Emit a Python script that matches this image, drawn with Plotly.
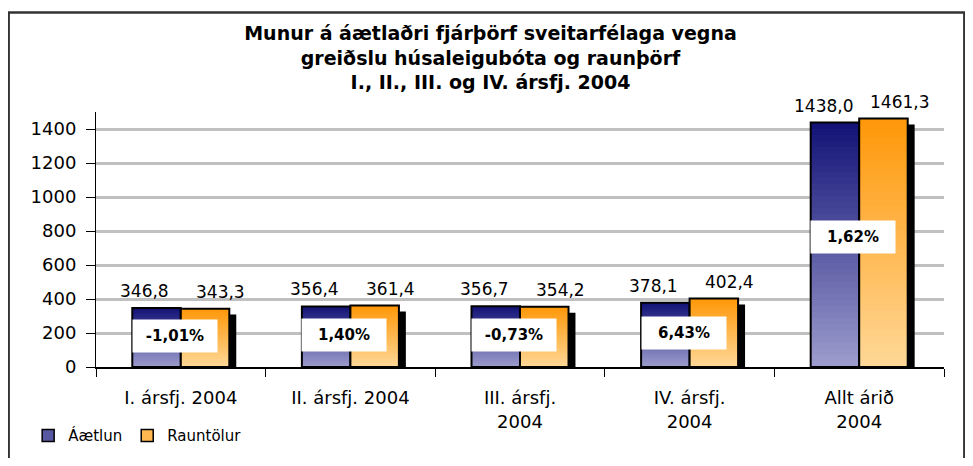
import plotly.graph_objects as go

categories = ["I. ársfj. 2004", "II. ársfj. 2004", "III. ársfj.<br>2004",
              "IV. ársfj.<br>2004", "Allt árið<br>2004"]
aaetlun = [346.8, 356.4, 356.7, 378.1, 1438.0]
rauntolur = [343.3, 361.4, 354.2, 402.4, 1461.3]
munur = ["-1,01%", "1,40%", "-0,73%", "6,43%", "1,62%"]

FONT = "DejaVu Sans"
W = 0.286
N = 40

def mix(c1, c2, t):
    return "rgb(%d,%d,%d)" % tuple(round(a + (b - a) * t) for a, b in zip(c1, c2))

def fmt(v):
    return f"{v:.1f}".replace(".", ",")

fig = go.Figure()

# shadow behind orange bars
fig.add_trace(go.Bar(x=categories, y=[v - 35 for v in rauntolur], offset=0.041, width=W,
                     marker=dict(color="black", line=dict(width=0)),
                     showlegend=False, hoverinfo="skip"))

series = [
    ("Áætlun", aaetlun, -W, (20, 20, 120), (155, 155, 205)),
    ("Rauntölur", rauntolur, 0.0, (255, 152, 10), (255, 215, 150)),
]
for name, vals, off, top, bottom in series:
    # vertical gradient: each layer runs from its start to the bar top
    for k in range(N):
        fig.add_trace(go.Bar(
            x=categories, y=[v * (N - k) / N for v in vals], base=[v * k / N for v in vals],
            offset=off, width=W,
            marker=dict(color=mix(bottom, top, k / (N - 1)), line=dict(width=0)),
            showlegend=False, hoverinfo="skip"))
    fig.add_trace(go.Bar(x=categories, y=vals, offset=off, width=W,
                         marker=dict(color="rgba(0,0,0,0)", line=dict(color="black", width=2)),
                         showlegend=False, hovertemplate=name + ": %{y}<extra></extra>"))
    # legend-only entry
    fig.add_trace(go.Bar(x=[None], y=[None], name=name,
                         marker=dict(color=mix(bottom, top, 0.5), line=dict(color="black", width=1.5))))

for i, cat in enumerate(categories):
    fig.add_annotation(x=cat, y=aaetlun[i], text=fmt(aaetlun[i]), showarrow=False,
                       xshift=-36, yshift=17, font=dict(family=FONT, size=17, color="black"))
    fig.add_annotation(x=cat, y=rauntolur[i], text=fmt(rauntolur[i]), showarrow=False,
                       xshift=40, yshift=17, font=dict(family=FONT, size=17, color="black"))
    fig.add_annotation(x=cat, y=0.53 * min(aaetlun[i], rauntolur[i]), text="<b>" + munur[i] + "</b>",
                       showarrow=False, xshift=-6, bgcolor="white", width=82, height=30,
                       font=dict(family=FONT, size=15, color="black"))

fig.add_shape(type="rect", xref="paper", yref="paper", x0=-0.103, x1=1.024, y0=-0.6, y1=1.39,
              line=dict(color="#333333", width=2.5), fillcolor="rgba(0,0,0,0)", layer="below")

# page body adds an 8px margin, so the figure is smaller and margins shifted
fig.update_layout(
    width=965, height=450,
    margin=dict(l=88, r=29, t=104, b=91, autoexpand=False),
    paper_bgcolor="white", plot_bgcolor="white",
    barmode="overlay",
    title=dict(text="<b>Munur á áætlaðri fjárþörf sveitarfélaga vegna<br>greiðslu húsaleigubóta og raunþörf<br>I., II., III. og IV. ársfj. 2004</b>",
               x=0.5, xanchor="center", y=0.929, yanchor="top",
               font=dict(family=FONT, size=19, color="black")),
    font=dict(family=FONT, color="black"),
    legend=dict(orientation="h", x=-0.08, xanchor="left", y=-0.27, yanchor="middle",
                font=dict(family=FONT, size=15), tracegroupgap=0,
                bgcolor="rgba(0,0,0,0)"),
    xaxis=dict(showline=True, linecolor="black", linewidth=1.5, ticks="outside", tickson="boundaries",
               ticklen=8, tickcolor="black", tickfont=dict(family=FONT, size=18), showgrid=False,
               ticklabelstandoff=14, automargin=False),
    yaxis=dict(range=[0, 1500], tickvals=[0, 200, 400, 600, 800, 1000, 1200, 1400],
               showline=True, linecolor="black", linewidth=1, ticks="outside", ticklen=9,
               tickcolor="black", tickfont=dict(family=FONT, size=18), ticklabelstandoff=6,
               showgrid=True, gridcolor="#c0c0c0", gridwidth=3, zeroline=False, automargin=False),
)

fig.write_html("out.html")
